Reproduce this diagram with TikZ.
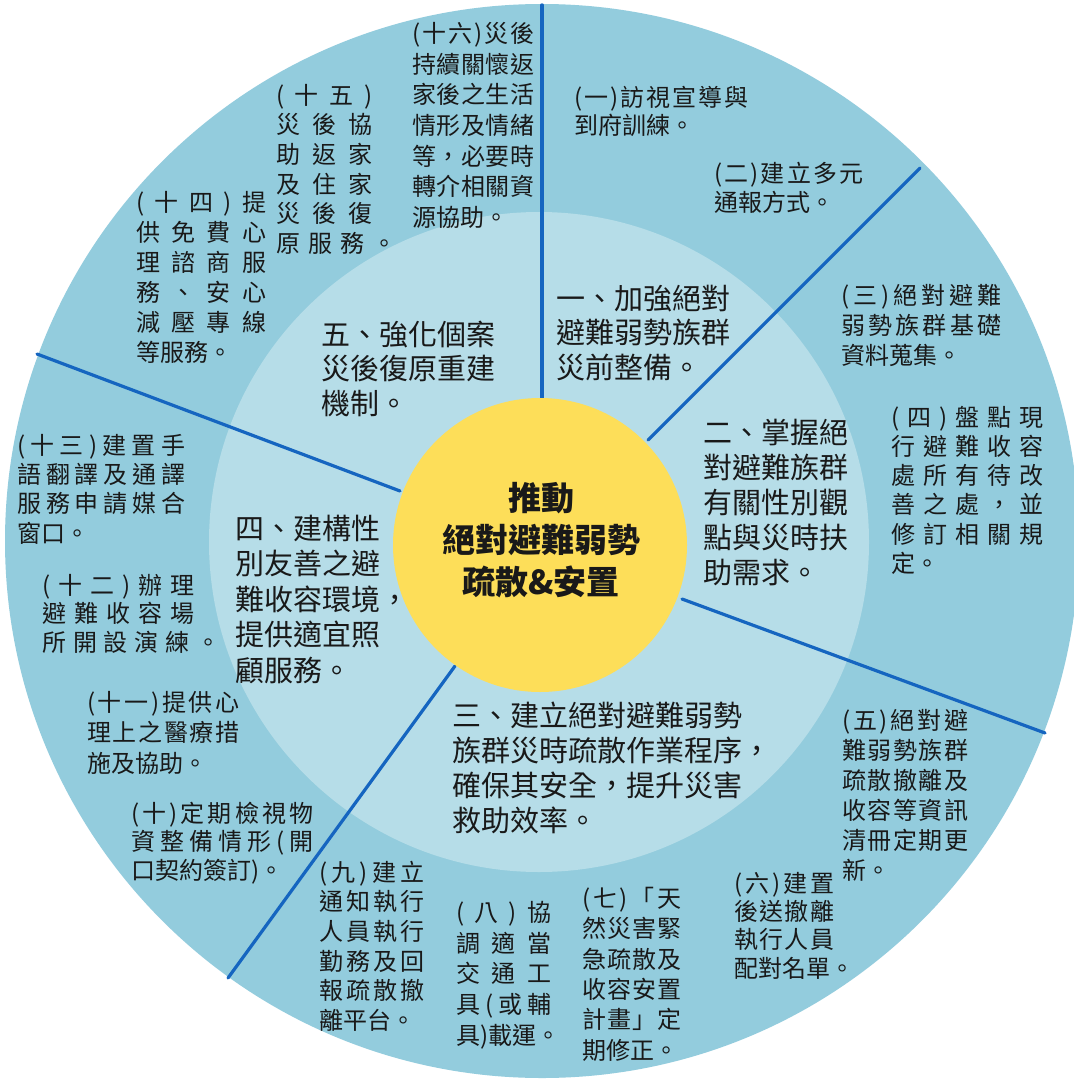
\documentclass[tikz,border=0pt]{standalone}
\usepackage{fontspec}
\newfontfamily\cjk{Noto Sans CJK TC}
\newlength\pxu \setlength\pxu{0.75pt}
\makeatletter
\def\sprdstop{}
\def\sprd#1{\sprd@a#1\sprdstop}
\def\sprd@a#1{#1\@ifnextchar\sprdstop{\sprd@end}{\hfill\sprd@a}}
\def\sprd@end\sprdstop{}
\makeatother
\newcommand\jl[2]{\hbox to #1\pxu{\sprd{#2}}}
\newcommand\fl{\rule{0pt}{0.9em}}
\definecolor{outerc}{RGB}{147,204,221}
\definecolor{innerc}{RGB}{182,221,232}
\definecolor{yellowc}{RGB}{253,222,89}
\definecolor{lineblue}{RGB}{21,101,192}
\definecolor{ink}{RGB}{25,25,25}
\tikzset{
  ob/.style={anchor=north west, inner sep=0pt, align=left, text=ink, font=\cjk\fontsize{18pt}{#1}\selectfont},
  ib/.style={anchor=north west, inner sep=0pt, align=left, text=ink, font=\cjk\fontsize{21.75pt}{#1}\selectfont},
  divider/.style={draw=lineblue, line width=2.4pt, line cap=round}
}
\begin{document}
\begin{tikzpicture}[x=0.75pt,y=-0.75pt]
\useasboundingbox (0,0) rectangle (1073,1080);
\fill[white] (0,0) rectangle (1073,1080);
\fill[outerc] (542,541) circle (402.75pt);
\fill[innerc] (539,542) circle (247.5pt);
\draw[divider] (542,400) -- (542,5);
\draw[divider] (648,440) -- (920,168);
\draw[divider] (682,599) -- (1045,733);
\draw[divider] (455,666) -- (228,978);
\draw[divider] (400,491) -- (37,354);
\fill[yellowc] (540,545) circle (110.25pt);

% center
\node[anchor=north, inner sep=0pt, align=center, text=ink, font=\cjk\bfseries\fontsize{24.75pt}{31.5pt}\selectfont] (c) at (541,481) {\fl 推動\\絕對避難弱勢\\疏散\&安置};

% inner ring
\node[ib=25.88pt] (i1) at (556,283) {\fl 一、加強絕對\\避難弱勢族群\\災前整備。};
\node[ib=25.88pt] (i5) at (321,319) {\fl 五、強化個案\\災後復原重建\\機制。};
\node[ib=26.25pt] (i2) at (703,417) {\fl 二、掌握絕\\對避難族群\\有關性別觀\\點與災時扶\\助需求。};
\node[ib=26.63pt] (i4) at (235,513) {\fl 四、建構性\\別友善之避\\難收容環境，\\提供適宜照\\顧服務。};
\node[ib=26.25pt] (i3) at (452,700) {\fl 三、建立絕對避難弱勢\\族群災時疏散作業程序，\\確保其安全，提升災害\\救助效率。};

% outer ring
\node[ob=23.03pt] (b16) at (412,20.5) {\fl\jl{122}{(十六)災後}\\\jl{122}{持續關懷返}\\\jl{122}{家後之生活}\\\jl{122}{情形及情緒}\\\jl{122}{等，必要時}\\\jl{122}{轉介相關資}\\源協助。};
\node[ob=21pt] (b1) at (574,84.5) {\fl\jl{174}{(一)訪視宣導與}\\到府訓練。};
\node[ob=21.75pt] (b2) at (714,160.5) {\fl\jl{149}{(二)建立多元}\\通報方式。};
\node[ob=22.5pt] (b3) at (841,282.5) {\fl\jl{160}{(三)絕對避難}\\\jl{160}{弱勢族群基礎}\\資料蒐集。};
\node[ob=21.9pt] (b4) at (891,404.5) {\fl\jl{152}{(四)盤點現}\\\jl{152}{行避難收容}\\\jl{152}{處所有待改}\\\jl{152}{善之處，並}\\\jl{152}{修訂相關規}\\定。};
\node[ob=22.5pt] (b5) at (842,707.5) {\fl\jl{126}{(五)絕對避}\\\jl{126}{難弱勢族群}\\\jl{126}{疏散撤離及}\\\jl{126}{收容等資訊}\\\jl{126}{清冊定期更}\\新。};
\node[ob=21.23pt] (b6) at (734,870.5) {\fl\jl{100}{(六)建置}\\\jl{100}{後送撤離}\\\jl{100}{執行人員}\\配對名單。};
\node[ob=22.8pt] (b7) at (582,885.5) {\fl\jl{99}{(七)「天}\\\jl{99}{然災害緊}\\\jl{99}{急疏散及}\\\jl{99}{收容安置}\\\jl{99}{計畫」定}\\期修正。};
\node[ob=23.06pt] (b8) at (456,899.5) {\fl\jl{95}{(八)協}\\\jl{95}{調適當}\\\jl{95}{交通工}\\\jl{95}{具(或輔}\\具)載運。};
\node[ob=22.2pt] (b9) at (319,859.5) {\fl\jl{105}{(九)建立}\\\jl{105}{通知執行}\\\jl{105}{人員執行}\\\jl{105}{勤務及回}\\\jl{105}{報疏散撤}\\離平台。};
\node[ob=21.38pt] (b10) at (131,800.5) {\fl\jl{182}{(十)定期檢視物}\\\jl{182}{資整備情形(開}\\口契約簽訂)。};
\node[ob=22.88pt] (b11) at (87,689.5) {\fl\jl{152}{(十一)提供心}\\\jl{152}{理上之醫療措}\\施及協助。};
\node[ob=21.38pt] (b12) at (42,572.5) {\fl\jl{152}{(十二)辦理}\\\jl{152}{避難收容場}\\\jl{178}{所開設演練。}};
\node[ob=21.98pt] (b13) at (17,432.5) {\fl\jl{168}{(十三)建置手}\\\jl{168}{語翻譯及通譯}\\\jl{168}{服務申請媒合}\\窗口。};
\node[ob=22.5pt] (b14) at (136,189.5) {\fl\jl{130}{(十四)提}\\\jl{130}{供免費心}\\\jl{130}{理諮商服}\\\jl{130}{務、安心}\\\jl{130}{減壓專線}\\等服務。};
\node[ob=22.2pt] (b15) at (276,82.5) {\fl\jl{96}{(十五)}\\\jl{96}{災後協}\\\jl{96}{助返家}\\\jl{96}{及住家}\\\jl{96}{災後復}\\\jl{120}{原服務。}};
\end{tikzpicture}
\end{document}
